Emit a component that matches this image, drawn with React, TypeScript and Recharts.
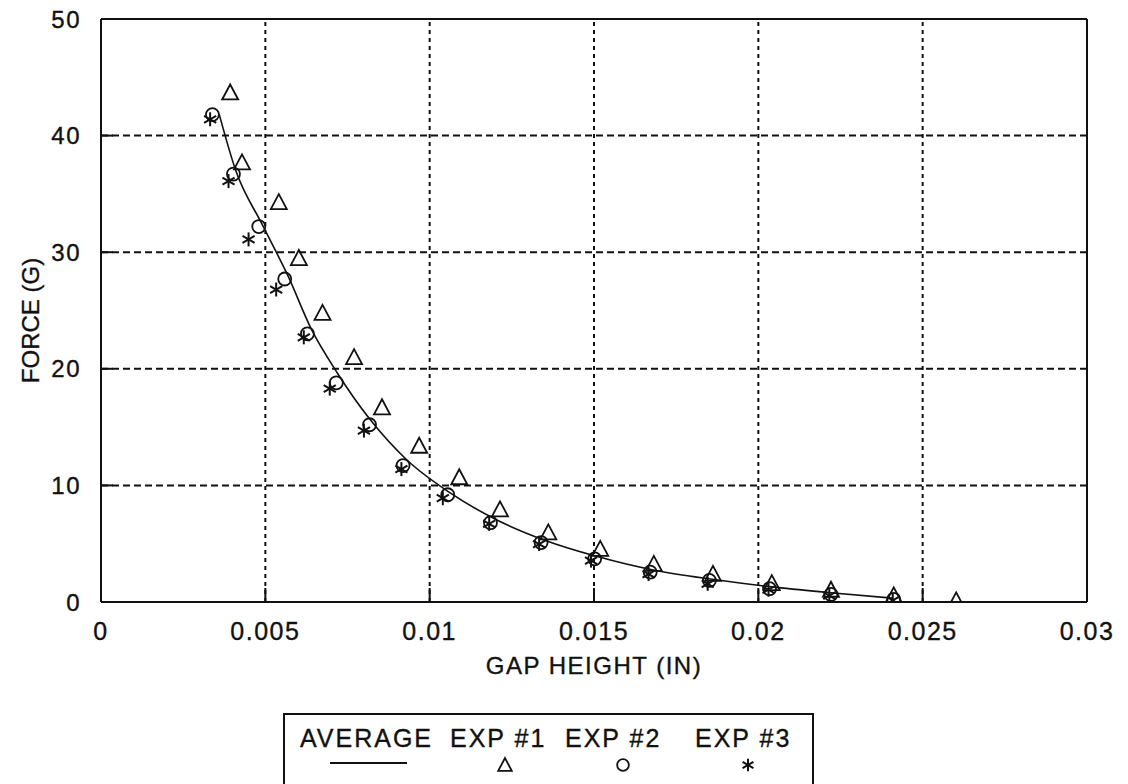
import {
  ComposedChart,
  Line,
  Scatter,
  XAxis,
  YAxis,
  ReferenceLine,
} from "recharts";

const FONT = "'Liberation Sans', Arial, sans-serif";
const INK = "#111";

const xTicks = [0, 0.005, 0.01, 0.015, 0.02, 0.025, 0.03];
const yTicks = [0, 10, 20, 30, 40, 50];

// [gap height (in), force (g)]
const average: [number, number][] = [
  [0.0036, 41.8], [0.0041, 37.0], [0.0049, 32.4], [0.0057, 27.9],
  [0.0064, 23.4], [0.0072, 19.6], [0.0082, 15.6], [0.0093, 12.2],
  [0.0106, 9.4], [0.012, 7.1], [0.0135, 5.3], [0.0151, 3.9],
  [0.0168, 2.75], [0.0186, 1.95], [0.0204, 1.3], [0.0222, 0.8],
  [0.0241, 0.33],
];

const exp1: [number, number][] = [
  [0.00393, 43.7], [0.00429, 37.7], [0.00541, 34.3], [0.00602, 29.5],
  [0.00674, 24.8], [0.0077, 21.0], [0.00855, 16.7], [0.00968, 13.4],
  [0.0109, 10.7], [0.01214, 7.95], [0.01361, 5.97], [0.01519, 4.55],
  [0.01682, 3.27], [0.01862, 2.41], [0.02041, 1.62], [0.02221, 1.05],
  [0.02412, 0.57], [0.02602, 0.14],
];

const exp2: [number, number][] = [
  [0.00339, 41.8], [0.00403, 36.7], [0.0048, 32.2], [0.00559, 27.7],
  [0.00628, 23.0], [0.00716, 18.8], [0.00817, 15.2], [0.00919, 11.7],
  [0.01055, 9.2], [0.01185, 6.8], [0.01339, 5.1], [0.01502, 3.7],
  [0.01671, 2.56], [0.01851, 1.85], [0.02034, 1.14], [0.02221, 0.65],
  [0.02412, 0.23],
];

const exp3: [number, number][] = [
  [0.00332, 41.4], [0.00388, 36.1], [0.00449, 31.1], [0.00533, 26.8],
  [0.00617, 22.7], [0.00696, 18.3], [0.008, 14.7], [0.00914, 11.4],
  [0.0104, 8.9], [0.01181, 6.7], [0.01333, 4.97], [0.01491, 3.55],
  [0.01666, 2.4], [0.01846, 1.56], [0.02031, 1.05], [0.02216, 0.54],
  [0.02409, 0.14],
];

const legendItems = [
  { label: "AVERAGE", kind: "line" },
  { label: "EXP #1", kind: "triangle" },
  { label: "EXP #2", kind: "circle" },
  { label: "EXP #3", kind: "star" },
];

const toPts = (a: [number, number][]) => a.map(([x, y]) => ({ x, y }));

function Triangle({ cx, cy, s = 1 }: any) {
  if (cx == null || cy == null) return null;
  const w = 8 * s, h = 14 * s;
  return (
    <path
      d={`M${cx},${cy - h / 2 - 1} L${cx + w},${cy + h / 2} L${cx - w},${cy + h / 2} Z`}
      fill="none"
      stroke={INK}
      strokeWidth={1.8}
    />
  );
}

function Circle({ cx, cy, s = 1 }: any) {
  if (cx == null || cy == null) return null;
  return <circle cx={cx} cy={cy} r={6.5 * s} fill="none" stroke={INK} strokeWidth={1.8} />;
}

function Star({ cx, cy, s = 1 }: any) {
  if (cx == null || cy == null) return null;
  const r = 7 * s;
  const arms = [90, 30, 150].map((a) => {
    const t = (a * Math.PI) / 180;
    const dx = r * Math.cos(t), dy = r * Math.sin(t);
    return <line key={a} x1={cx - dx} y1={cy - dy} x2={cx + dx} y2={cy + dy} stroke={INK} strokeWidth={2} />;
  });
  return <g>{arms}</g>;
}

const textStyle = { fill: INK, fontFamily: FONT, stroke: INK, strokeWidth: 0.35 };

function YTick({ x, y, payload }: any) {
  return (
    <g>
      <line x1={x} x2={x + 12} y1={y} y2={y} stroke={INK} strokeWidth={2} />
      <text x={x - 20} y={y} dy={8.5} textAnchor="end" fontSize={24} letterSpacing={1.5} {...textStyle}>
        {payload.value}
      </text>
    </g>
  );
}

function XTick({ x, y, payload }: any) {
  return (
    <g>
      <line x1={x} x2={x} y1={y} y2={y - 14} stroke={INK} strokeWidth={2} />
      <text x={x} y={y + 38} textAnchor="middle" fontSize={25} letterSpacing={1.5} {...textStyle}>
        {String(payload.value)}
      </text>
    </g>
  );
}

function XTitle({ viewBox }: any) {
  const { x, y, width } = viewBox;
  return (
    <text x={x + width / 2} y={y + 72} textAnchor="middle" fontSize={24} letterSpacing={1.5} {...textStyle}>
      GAP HEIGHT (IN)
    </text>
  );
}

function YTitle({ viewBox }: any) {
  const { y, height } = viewBox;
  const cx = 39, cy = y + height / 2 + 10;
  return (
    <text x={cx} y={cy} transform={`rotate(-90 ${cx} ${cy})`} textAnchor="middle" fontSize={24} {...textStyle}>
      FORCE (G)
    </text>
  );
}

function LegendBox() {
  const textX = [300, 450, 565, 695];
  const symX = [368, 505, 623, 748];
  return (
    <svg width={1128} height={784} style={{ position: "absolute", left: 0, top: 0, pointerEvents: "none" }}>
      <rect x={284} y={714} width={529} height={90} fill="#fff" stroke={INK} strokeWidth={2} />
      {legendItems.map((it, i) => (
        <g key={it.label}>
          <text x={textX[i]} y={747} fontSize={25} letterSpacing={2} {...textStyle}>
            {it.label}
          </text>
          {it.kind === "line" && <line x1={330} x2={407} y1={763} y2={763} stroke={INK} strokeWidth={1.8} />}
          {it.kind === "triangle" && <Triangle cx={symX[i]} cy={765} s={0.85} />}
          {it.kind === "circle" && <Circle cx={symX[i]} cy={765} s={0.9} />}
          {it.kind === "star" && <Star cx={symX[i]} cy={765} s={0.9} />}
        </g>
      ))}
    </svg>
  );
}

export default function App() {
  return (
    <div style={{ position: "absolute", left: 0, top: 0, width: 1128, height: 784, background: "#fff" }}>
      <ComposedChart width={1128} height={784} margin={{ top: 19, right: 41, bottom: 122, left: 21 }}>
        <XAxis
          type="number"
          dataKey="x"
          domain={[0, 0.03]}
          ticks={xTicks}
          interval={0}
          height={60}
          tickSize={0}
          tickMargin={0}
          tickLine={false}
          tick={<XTick />}
          axisLine={{ stroke: INK, strokeWidth: 2 }}
          label={<XTitle />}
          allowDataOverflow
        />
        <YAxis
          type="number"
          dataKey="y"
          domain={[0, 50]}
          ticks={yTicks}
          interval={0}
          width={80}
          tickSize={0}
          tickMargin={0}
          tickLine={false}
          tick={<YTick />}
          axisLine={{ stroke: INK, strokeWidth: 2 }}
          label={<YTitle />}
          allowDataOverflow
        />
        {xTicks.slice(1, -1).map((v) => (
          <ReferenceLine key={`gx${v}`} x={v} stroke={INK} strokeWidth={2} strokeDasharray="4 4" />
        ))}
        {yTicks.slice(1, -1).map((v) => (
          <ReferenceLine key={`gy${v}`} y={v} stroke={INK} strokeWidth={2} strokeDasharray="7 4" />
        ))}
        <ReferenceLine y={50} stroke={INK} strokeWidth={2} />
        <ReferenceLine x={0.03} stroke={INK} strokeWidth={2} />
        <Line
          data={toPts(average)}
          dataKey="y"
          type="monotone"
          stroke={INK}
          strokeWidth={1.6}
          dot={false}
          activeDot={false}
          isAnimationActive={false}
        />
        <Scatter data={toPts(exp1)} dataKey="y" shape={<Triangle />} isAnimationActive={false} />
        <Scatter data={toPts(exp2)} dataKey="y" shape={<Circle />} isAnimationActive={false} />
        <Scatter data={toPts(exp3)} dataKey="y" shape={<Star />} isAnimationActive={false} />
      </ComposedChart>
      <LegendBox />
    </div>
  );
}
